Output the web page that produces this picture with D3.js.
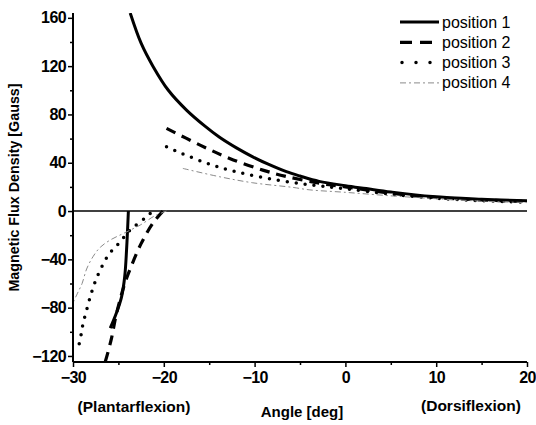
<!DOCTYPE html>
<html><head><meta charset="utf-8">
<script src="https://cdn.jsdelivr.net/npm/d3@7"></script>
<style>body{margin:0;background:#fff}svg{display:block}text{font-family:"Liberation Sans",Arial,sans-serif}</style>
</head><body>
<svg id="c" width="536" height="425"></svg>
<script>
// ---- data (angle [deg], flux [Gauss]) ----
const seriesNames = ["position 1", "position 2", "position 3", "position 4"];
const xTicks = [-30, -20, -10, 0, 10, 20];
const yTicks = [-120, -80, -40, 0, 40, 80, 120, 160];
const pos1Dorsi = [[-23.7,164],[-22.5,139],[-21.2,120],[-19.5,100],[-17.5,83.6],[-15.5,70.5],[-13.9,61.3],[-12,52.3],[-10.2,44.9],[-8.5,38.8],[-6.5,32.6],[-5,29],[-2.9,24.6],[0,21],[2.3,18.6],[5,15.8],[9.6,12],[15,9.8],[20,8.5]];
const pos1Plantar = [[-23.9,0],[-24.1,-32],[-24.3,-54],[-24.65,-71],[-25.2,-84],[-25.9,-97]];
const pos2Dorsi = [[-19.7,68.5],[-16,54.6],[-12.75,43.6],[-9.1,33.9],[-6.5,28.6],[-3,23.2],[0,20],[5,14.8],[10,11.2],[15,9.2],[20,7.9]];
const pos2Plantar = [[-20.1,0],[-21.2,-10],[-22.5,-27],[-23.6,-46],[-24.3,-60],[-24.8,-73],[-25.3,-88],[-25.75,-105],[-26.3,-121],[-26.5,-126]];
const pos3Dorsi = [[-19.7,53.2],[-15.7,40.8],[-12,32.5],[-7.6,25.7],[-3.6,21.5],[0,18.5],[5,14],[10,10.6],[15,8.6],[20,7.3]];
const pos3Plantar = [[-21.5,-2],[-22.1,-6],[-23.7,-15.7],[-24.8,-25.4],[-26.1,-36.4],[-27,-48.8],[-27.6,-59.3],[-28.1,-71],[-28.5,-82],[-28.9,-93.5],[-29.15,-104],[-29.5,-116]];
const pos4Dorsi = [[-17.9,35.3],[-13.85,28.4],[-10.2,23.4],[-5.8,19.6],[-4,17.6],[0,15.5],[5,12.6],[10,10.2],[15,8.2],[20,7]];
const pos4Plantar = [[-19.7,0],[-21,-4],[-22.6,-11.6],[-24.3,-18],[-25.9,-24],[-27,-30],[-27.8,-37.8],[-28.5,-48],[-29,-60],[-29.5,-68],[-30,-76]];

const styles = [
  {stroke:"#000", width:3, dash:null, cap:"butt"},
  {stroke:"#000", width:3.2, dash:"10,7", cap:"butt"},
  {stroke:"#000", width:3.5, dash:"0,9", cap:"round"},
  {stroke:"#8a8a8a", width:1, dash:"6,3,2,3", cap:"butt"}
];
const allSeries = [
  [pos1Dorsi, pos1Plantar],
  [pos2Dorsi, pos2Plantar],
  [pos3Dorsi, pos3Plantar],
  [pos4Dorsi, pos4Plantar]
];

const svg = d3.select("#c");
const L = 73, R = 527, T = 13, B = 362;
const x = d3.scaleLinear().domain([-30, 20]).range([L, R]);
const y = d3.scaleLinear().domain([-125, 164]).range([B, T]);

svg.append("clipPath").attr("id","clip").append("rect")
  .attr("x", L).attr("y", T).attr("width", R - L).attr("height", B - T);

// zero line
svg.append("line").attr("x1", L).attr("x2", R).attr("y1", y(0)).attr("y2", y(0))
  .attr("stroke", "#000").attr("stroke-width", 1.6);

const line = d3.line().x(d => x(d[0])).y(d => y(d[1])).curve(d3.curveCatmullRom.alpha(0.5));
const g = svg.append("g").attr("clip-path", "url(#clip)");
allSeries.forEach((pair, i) => {
  const s = styles[i];
  pair.forEach(data => {
    g.append("path").datum(data)
      .attr("d", line(data))
      .attr("fill", "none").attr("stroke", s.stroke).attr("stroke-width", s.width)
      .attr("stroke-dasharray", s.dash).attr("stroke-linecap", s.cap);
  });
});

// axes
const xAxis = d3.axisBottom(x).tickValues(xTicks).tickSize(5).tickPadding(5).tickFormat(d3.format("d"));
const yAxis = d3.axisLeft(y).tickValues(yTicks).tickSize(5).tickPadding(2).tickFormat(d3.format("d"));
const gx = svg.append("g").attr("transform", `translate(0,${B})`).call(xAxis);
const gy = svg.append("g").attr("transform", `translate(${L},0)`).call(yAxis);
// minor ticks
svg.append("g").attr("transform", `translate(0,${B})`)
  .call(d3.axisBottom(x).tickValues(d3.range(-25, 20, 10)).tickSize(3).tickFormat(""))
  .select(".domain").remove();
svg.append("g").attr("transform", `translate(${L},0)`)
  .call(d3.axisLeft(y).tickValues(d3.range(-100, 160, 40)).tickSize(3).tickFormat(""))
  .select(".domain").remove();
svg.selectAll(".domain").attr("stroke-width", 2);
gx.select(".domain").attr("d", `M${L},0H${R}`);
gy.select(".domain").attr("d", `M0,${B}V${T}`);
svg.selectAll(".tick line").attr("stroke-width", 1.5);
svg.selectAll(".tick text").attr("font-size", 16).attr("font-weight", "bold")
  .attr("letter-spacing", -0.6).attr("fill", "#000");

// titles
svg.append("text").attr("x", 302).attr("y", 417).attr("text-anchor", "middle")
  .attr("font-size", 15).attr("font-weight", "bold").text("Angle [deg]");
svg.append("text").attr("x", 134).attr("y", 412).attr("text-anchor", "middle")
  .attr("font-size", 15.5).attr("font-weight", "bold").text("(Plantarflexion)");
svg.append("text").attr("x", 471).attr("y", 411).attr("text-anchor", "middle")
  .attr("font-size", 15.5).attr("font-weight", "bold").text("(Dorsiflexion)");
svg.append("text").attr("transform", `translate(19,${(T + B) / 2}) rotate(-90)`)
  .attr("text-anchor", "middle").attr("font-size", 14.3).attr("font-weight", "bold")
  .text("Magnetic Flux Density [Gauss]");

// legend
const lg = svg.append("g");
seriesNames.forEach((name, i) => {
  const s = styles[i];
  const yy = 22 + i * 20.3;
  lg.append("line").attr("x1", 400).attr("x2", 439).attr("y1", yy).attr("y2", yy)
    .attr("stroke", s.stroke).attr("stroke-width", s.width)
    .attr("stroke-dasharray", i === 2 ? "0,14" : (i === 1 ? "12,8" : s.dash)).attr("stroke-linecap", s.cap)
    .attr("transform", i === 2 ? "translate(2,0)" : null);
  lg.append("text").attr("x", 442).attr("y", yy + 5.5).attr("font-size", 16).text(name);
});
</script>
</body></html>
